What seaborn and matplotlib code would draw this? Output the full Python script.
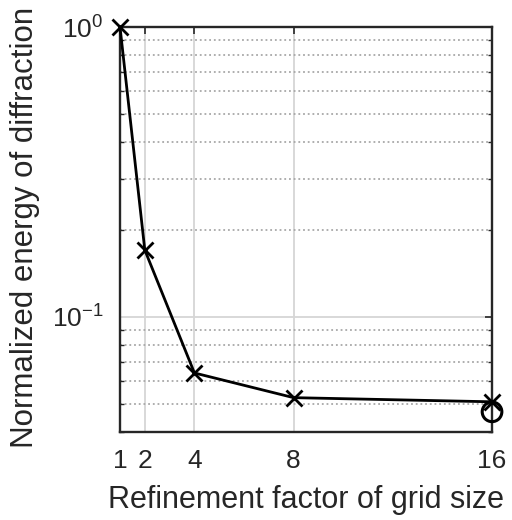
import matplotlib
matplotlib.use("Agg")
import matplotlib.pyplot as plt
import matplotlib.ticker as mticker
import numpy as np
import pandas as pd
import seaborn as sns

# Refinement factors and the normalized diffraction energy at each one
refinement = [1, 2, 4, 8, 16]
energy = [1.0, 0.170, 0.064, 0.0526, 0.0509]
# Reference value marked with a circle at the finest grid
ref_factor = [16]
ref_energy = [0.047]
xtick_values = [1, 2, 4, 8, 16]

sns.set_style("white")
plt.rcParams["font.family"] = ["Liberation Sans", "DejaVu Sans"]
plt.rcParams["mathtext.fontset"] = "custom"
plt.rcParams["mathtext.rm"] = "Liberation Sans"
plt.rcParams["mathtext.it"] = "Liberation Sans:italic"

fig = plt.figure(figsize=(5.12, 5.20), dpi=100)
ax = fig.add_axes([0.2344, 0.169, 0.7266, 0.779])

df = pd.DataFrame({"factor": refinement, "energy": energy})
ref = pd.DataFrame({"factor": ref_factor, "energy": ref_energy})

ax.set_yscale("log")
ax.set_xlim(1, 16)
ax.set_ylim(0.04, 1.0)

# grid: solid light major lines, dotted minor lines on the log axis
ax.set_xticks(xtick_values)
ax.set_xticklabels([str(v) for v in xtick_values])
ax.yaxis.set_major_locator(mticker.LogLocator(base=10, numticks=5))
ax.yaxis.set_minor_locator(mticker.LogLocator(base=10, subs=np.arange(2, 10), numticks=10))
ax.yaxis.set_minor_formatter(mticker.NullFormatter())
ax.grid(True, which="major", axis="both", color="#d6d6d6", linestyle="-", linewidth=1.3, zorder=0)
ax.grid(True, which="minor", axis="y", color="#a8a8a8", linestyle=(0, (1.0, 1.6)), linewidth=1.3, zorder=0)
ax.set_axisbelow(True)

sns.lineplot(data=df, x="factor", y="energy", ax=ax, color="black", linewidth=2.0,
             marker="x", markersize=12, markeredgewidth=2.0, markeredgecolor="black",
             legend=False, zorder=5, clip_on=False)
sns.scatterplot(data=ref, x="factor", y="energy", ax=ax, marker="o", s=200,
                facecolor="none", edgecolor="black", linewidth=2.2, legend=False,
                zorder=6, clip_on=False)

for side in ["top", "bottom", "left", "right"]:
    ax.spines[side].set_visible(True)
    ax.spines[side].set_color("#262626")
    ax.spines[side].set_linewidth(1.7)

ax.tick_params(axis="both", which="major", direction="in", length=5, width=1.2,
               top=True, right=True, labelsize=19, colors="#262626", pad=12)
ax.tick_params(axis="y", which="minor", direction="in", length=3, width=1.0,
               left=True, right=True, colors="#262626")
ax.tick_params(axis="x", which="minor", bottom=False, top=False)

ax.set_xlabel("Refinement factor of grid size", fontsize=22, color="#262626", labelpad=9)
ax.set_ylabel("Normalized energy of diffraction", fontsize=22.5, color="#262626")
ax.yaxis.set_label_coords(-0.215, 0.505)

fig.savefig("out.png", dpi=100, facecolor="white")
